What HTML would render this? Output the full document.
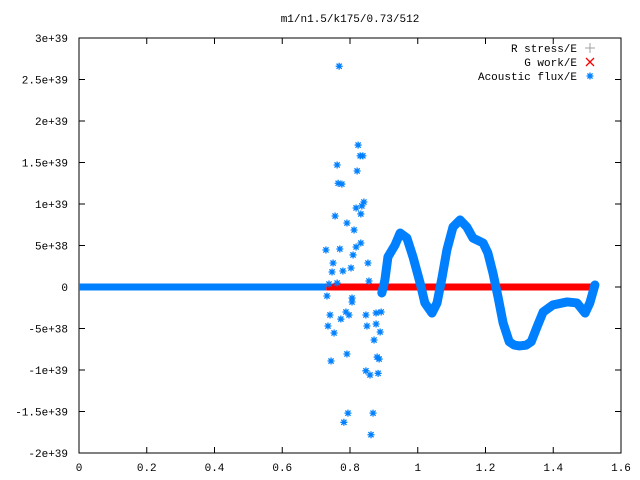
<!DOCTYPE html>
<html><head><meta charset="utf-8"><style>
body{margin:0;background:#fff}
svg{display:block;font-family:"Liberation Mono",monospace;font-size:11px}
</style></head><body>
<svg id="chart" width="640" height="480" viewBox="0 0 640 480">
<defs>
<g id="ast"><path d="M-3.5,0H3.5M0,-3.5V3.5M-2.6,-2.6L2.6,2.6M-2.6,2.6L2.6,-2.6" stroke="#0080ff" stroke-width="1.3" fill="none"/></g>
</defs>
<rect x="79" y="38" width="542" height="415" fill="none" stroke="#000" stroke-width="1"/>
<text x="350" y="22" text-anchor="middle">m1/n1.5/k175/0.73/512</text>
<g id="axes"></g>
<g id="series"></g>
<g text-anchor="end">
<text x="577" y="52">R stress/E</text>
<path d="M585,48H595M590,43V53" stroke="#a0a0a0" stroke-width="1"/>
<text x="577" y="66">G work/E</text>
<path d="M586,58L594,66M586,66L594,58" stroke="#ff0000" stroke-width="1.3"/>
<text x="577" y="80">Acoustic flux/E</text>
<use href="#ast" x="590" y="76"/>
</g>
</svg>
<script>
const xTicks=[0,0.2,0.4,0.6,0.8,1,1.2,1.4,1.6];
const xTickLabels=["0","0.2","0.4","0.6","0.8","1","1.2","1.4","1.6"];
const yTicks=[30,25,20,15,10,5,0,-5,-10,-15,-20];
const yTickLabels=["3e+39","2.5e+39","2e+39","1.5e+39","1e+39","5e+38","0","-5e+38","-1e+39","-1.5e+39","-2e+39"];
// values in units of 1e38
const zeroBlueRange=[0,0.73];
const zeroRedRange=[0.73,1.53];
const scatterX=[0.729,0.750,0.747,0.762,0.765,0.776,0.756,0.770,0.779,0.762,0.738,0.732,0.741,0.735,0.753,0.744,0.773,0.788,0.797,0.791,0.803,0.812,0.809,0.818,0.832,0.821,0.824,0.830,0.838,0.818,0.835,0.841,0.832,0.806,0.806,0.791,0.853,0.856,0.847,0.850,0.877,0.892,0.877,0.889,0.871,0.880,0.886,0.847,0.859,0.883,0.794,0.782,0.868,0.862,0.768];
const scatterY=[4.46,2.89,1.81,14.7,12.5,12.4,8.55,4.58,1.93,0.48,0.36,-1.08,-3.37,-4.70,-5.54,-8.92,-3.86,-3.01,-3.37,7.71,2.29,6.87,3.86,4.82,5.30,13.98,17.1,15.8,15.8,9.52,9.76,10.24,8.80,-1.33,-1.81,-8.07,2.89,0.72,-3.37,-4.70,-3.13,-3.01,-4.46,-5.42,-6.39,-8.44,-8.68,-10.1,-10.6,-10.4,-15.2,-16.3,-15.2,-17.8,26.6];
const curveX=[0.894,0.903,0.912,0.933,0.948,0.968,0.986,1.007,1.021,1.042,1.057,1.072,1.086,1.104,1.125,1.145,1.163,1.193,1.207,1.222,1.237,1.252,1.270,1.285,1.300,1.320,1.335,1.352,1.370,1.399,1.441,1.470,1.494,1.508,1.523];
const curveY=[-0.72,0.84,3.62,5.06,6.5,5.9,3.62,0.48,-1.92,-3.14,-1.92,1.2,4.46,7.22,8.08,7.22,5.9,5.3,4.1,1.68,-1.2,-4.34,-6.6,-7.0,-7.1,-7.0,-6.6,-4.82,-3.02,-2.16,-1.8,-1.92,-3.14,-1.92,0.24];
const X=v=>79+v*(542/1.6);
const Y=v=>287-v*8.3;
const NS="http://www.w3.org/2000/svg";
const ax=document.getElementById('axes'),se=document.getElementById('series');
function mk(tag,at,parent){const e=document.createElementNS(NS,tag);for(const k in at)e.setAttribute(k,at[k]);parent.appendChild(e);return e;}
xTicks.forEach((t,i)=>{
 const l=mk('path',{d:`M${X(t)},453v-6M${X(t)},38v6`,stroke:'#000'},ax);
 
 
 const tx=mk('text',{x:X(t),y:471,'text-anchor':'middle'},ax);tx.textContent=xTickLabels[i];
 
 
});
yTicks.forEach((t,i)=>{
 const l=mk('path',{d:`M79,${Y(t)}h6M621,${Y(t)}h-6`,stroke:'#000'},ax);
 
 
 const tx=mk('text',{x:68,y:Y(t)+4,'text-anchor':'end'},ax);tx.textContent=yTickLabels[i];
 
 
});
const zb=mk('rect',{x:X(zeroBlueRange[0]),y:Y(0)-3.5,width:X(zeroBlueRange[1])-X(zeroBlueRange[0]),height:7,fill:'#0080ff'},se);


const zr=mk('rect',{x:X(zeroRedRange[0]),y:Y(0)-3.5,width:X(zeroRedRange[1])-X(zeroRedRange[0]),height:7,fill:'#ff0000'},se);


const pl=mk('polyline',{points:curveX.map((x,i)=>X(x)+','+Y(curveY[i])).join(' '),fill:'none',stroke:'#0080ff','stroke-width':9,'stroke-linejoin':'round','stroke-linecap':'round'},se);


curveX.forEach((x,i)=>{const u=mk('use',{href:'#ast',x:X(x),y:Y(curveY[i])},se);
 
 });
scatterX.forEach((x,i)=>{const u=mk('use',{href:'#ast',x:X(x),y:Y(scatterY[i])},se);
 
 });
</script>
</body></html>
